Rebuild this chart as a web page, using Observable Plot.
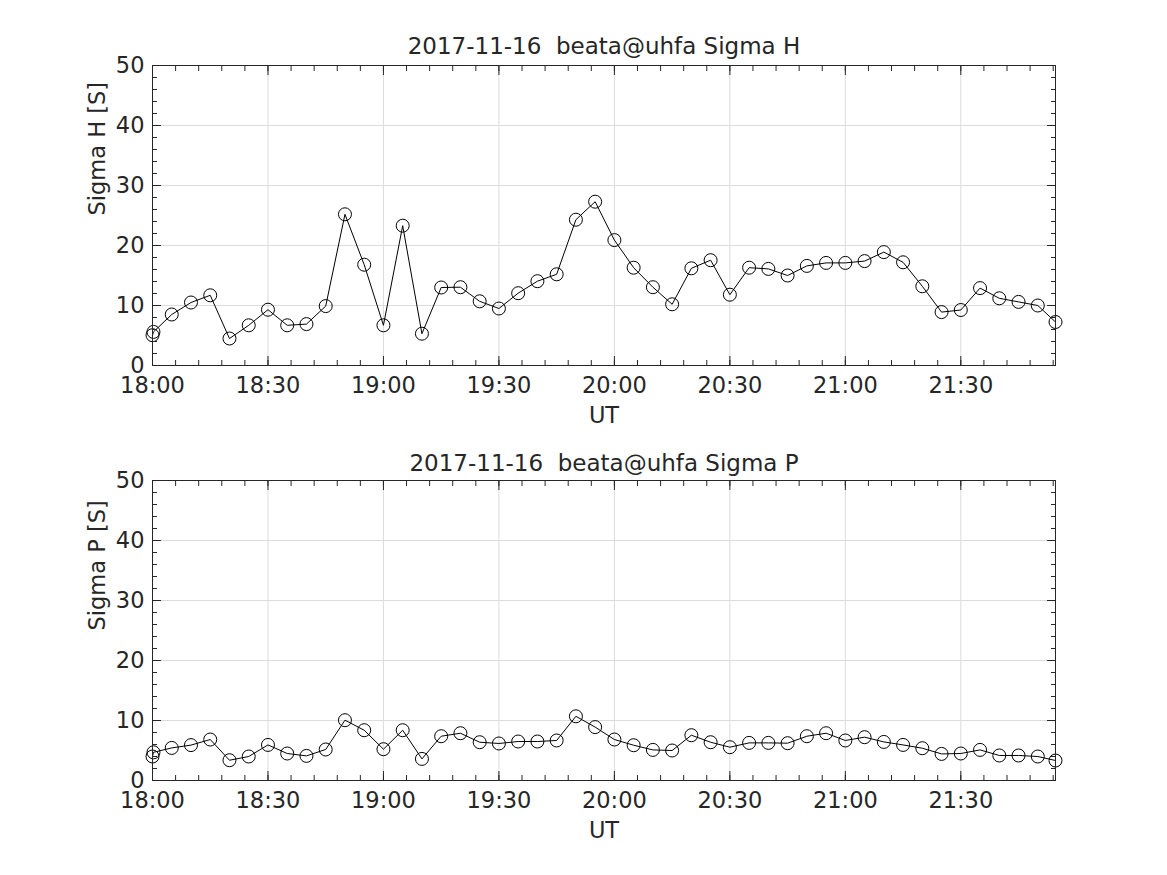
<!DOCTYPE html>
<html><head><meta charset="utf-8">
<script src="https://cdn.jsdelivr.net/npm/d3@7"></script>
<script src="https://cdn.jsdelivr.net/npm/@observablehq/plot@0.6"></script>
<style>
body{margin:0;background:#fff;}
#wrap{position:relative;width:1167px;height:875px;overflow:hidden;background:#fff;}
#wrap svg{position:absolute;left:0;}
</style></head><body><div id="wrap"></div>
<script>
const day = "2017-11-16";
const station = "beata@uhfa";
const times = ["18:00:00","18:00:15","18:05:00","18:10:00","18:15:00","18:20:00","18:25:00","18:30:00","18:35:00","18:40:00","18:45:00","18:50:00","18:55:00",
  "19:00:00","19:05:00","19:10:00","19:15:00","19:20:00","19:25:00","19:30:00","19:35:00","19:40:00","19:45:00","19:50:00","19:55:00",
  "20:00:00","20:05:00","20:10:00","20:15:00","20:20:00","20:25:00","20:30:00","20:35:00","20:40:00","20:45:00","20:50:00","20:55:00",
  "21:00:00","21:05:00","21:10:00","21:15:00","21:20:00","21:25:00","21:30:00","21:35:00","21:40:00","21:45:00","21:50:00","21:54:36"];
const sigmaH = [5.05,5.6,8.5,10.5,11.7,4.5,6.7,9.3,6.7,6.9,9.9,25.2,16.8,
  6.7,23.3,5.3,13.0,13.05,10.7,9.5,12.05,14.05,15.2,24.3,27.3,
  20.9,16.3,13.05,10.2,16.2,17.55,11.8,16.3,16.1,15.0,16.6,17.1,
  17.1,17.4,18.9,17.2,13.2,8.9,9.25,12.9,11.2,10.6,10.0,7.25];
const sigmaP = [4.0,4.7,5.43,5.9,6.83,3.38,4.0,5.93,4.5,4.1,5.17,10.05,8.38,
  5.22,8.38,3.6,7.38,7.88,6.38,6.17,6.5,6.5,6.67,10.7,8.9,
  6.83,5.88,5.1,5.0,7.55,6.38,5.55,6.27,6.27,6.22,7.38,7.88,
  6.67,7.22,6.43,5.93,5.38,4.43,4.5,5.1,4.17,4.17,4.0,3.33];
const yTicks = [0,10,20,30,40,50];
const yMinor = [0,2,4,6,8,10,12,14,16,18,20,22,24,26,28,30,32,34,36,38,40,42,44,46,48,50];
const xLabel = "UT";

const ink = "#262626";
const gridColor = "#dcdcdc";
const font = "'DejaVu Sans', sans-serif";

function panel(values, name, top, height, marginTop, marginBottom, titleDy) {
  const data = times.map((t, i) => ({t: new Date(`${day}T${t}Z`), v: values[i]}));
  const x0 = data[0].t, x1 = data[data.length - 1].t;
  const xMajor = d3.utcMinute.every(30).range(x0, new Date(+x1 + 1));
  const xMinor = d3.utcMinute.every(6).range(x0, new Date(+x1 + 1));
  const fmt = d3.utcFormat("%H:%M");
  const svg = Plot.plot({
    width: 1167, height, marginTop, marginBottom, marginLeft: 152, marginRight: 112,
    style: {fontFamily: font, fontSize: "22.5px", color: ink, background: "white", overflow: "visible"},
    x: {type: "utc", domain: [x0, x1]},
    y: {domain: [0, 50]},
    marks: [
      Plot.gridX(xMajor, {stroke: gridColor, strokeOpacity: 1}),
      Plot.gridY(yTicks, {stroke: gridColor, strokeOpacity: 1}),
      Plot.line(data, {x: "t", y: "v", stroke: "black", strokeWidth: 1}),
      Plot.dot(data, {x: "t", y: "v", r: 6.5, stroke: "black", fill: "none", strokeWidth: 1}),
      Plot.frame({stroke: ink}),
      // inward ticks, all four sides
      Plot.axisX(xMajor, {anchor: "bottom", tickSize: 9, dy: -9, fill: "none", label: null, stroke: ink}),
      Plot.axisX(xMinor, {anchor: "bottom", tickSize: 5, dy: -5, fill: "none", label: null, stroke: ink}),
      Plot.axisX(xMajor, {anchor: "top", tickSize: 9, dy: 9, fill: "none", label: null, stroke: ink}),
      Plot.axisX(xMinor, {anchor: "top", tickSize: 5, dy: 5, fill: "none", label: null, stroke: ink}),
      Plot.axisY(yTicks, {anchor: "left", tickSize: 9, dx: 9, fill: "none", label: null, stroke: ink}),
      Plot.axisY(yMinor, {anchor: "left", tickSize: 5, dx: 5, fill: "none", label: null, stroke: ink}),
      Plot.axisY(yTicks, {anchor: "right", tickSize: 9, dx: -9, fill: "none", label: null, stroke: ink}),
      Plot.axisY(yMinor, {anchor: "right", tickSize: 5, dx: -5, fill: "none", label: null, stroke: ink}),
      // tick labels
      Plot.axisX(xMajor, {anchor: "bottom", tickSize: 0, tickPadding: 12, tickFormat: fmt, label: null, fill: ink}),
      Plot.axisY(yTicks, {anchor: "left", tickSize: 0, tickPadding: 8, label: null, fill: ink}),
      // titles
      Plot.text([`${day}  ${station} Sigma ${name}`], {frameAnchor: "top", dy: titleDy, lineAnchor: "bottom", fill: ink, fontSize: 23}),
      Plot.text([`Sigma ${name} [S]`], {frameAnchor: "left", dx: -55, rotate: -90, fill: ink, fontSize: 22.5}),
      Plot.text([xLabel], {frameAnchor: "bottom", dy: 42, lineAnchor: "top", fill: ink, fontSize: 22.5})
    ]
  });
  svg.style.top = top + "px";
  document.getElementById("wrap").appendChild(svg);
}
panel(sigmaH, "H", 0, 437, 65, 72, -12);
panel(sigmaP, "P", 437, 438, 43, 95, -10);
</script></body></html>
